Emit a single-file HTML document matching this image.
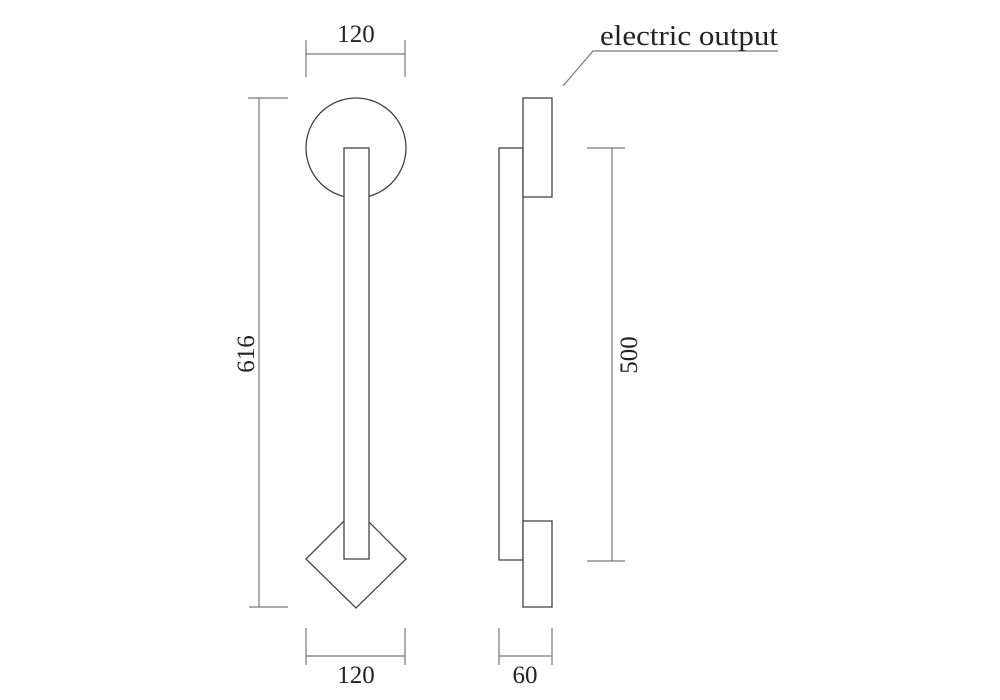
<!DOCTYPE html>
<html><head><meta charset="utf-8"><style>
html,body{margin:0;padding:0;background:#fff;}
svg{display:block;}
text{font-family:"Liberation Serif",serif;fill:#222;}
</style></head><body>
<svg width="1000" height="700" viewBox="0 0 1000 700" xmlns="http://www.w3.org/2000/svg">
<g fill="none" stroke="#777" stroke-width="1.2">
  <line x1="306" y1="40" x2="306" y2="77"/>
  <line x1="405" y1="40" x2="405" y2="77"/>
  <line x1="306" y1="54" x2="405" y2="54"/>
  <line x1="259" y1="98" x2="259" y2="607"/>
  <line x1="248" y1="98" x2="288" y2="98"/>
  <line x1="249" y1="607" x2="288" y2="607"/>
  <line x1="612" y1="148" x2="612" y2="561"/>
  <line x1="587" y1="148" x2="625" y2="148"/>
  <line x1="587" y1="561" x2="625" y2="561"/>
  <line x1="306" y1="628" x2="306" y2="665"/>
  <line x1="405" y1="628" x2="405" y2="665"/>
  <line x1="306" y1="656" x2="405" y2="656"/>
  <line x1="499" y1="628" x2="499" y2="665"/>
  <line x1="552" y1="628" x2="552" y2="665"/>
  <line x1="499" y1="656" x2="552" y2="656"/>
  <polyline points="563,86 593,51 778,51"/>
</g>
<g fill="#fff" stroke="#444" stroke-width="1.3">
  <circle cx="356" cy="148" r="50"/>
  <polygon points="356,509 406,559 356,608 306,559"/>
  <rect x="344" y="148" width="25" height="411"/>
  <rect x="499" y="148" width="24" height="412"/>
  <rect x="523" y="98" width="29" height="99"/>
  <rect x="523" y="521" width="29" height="86"/>
</g>
<g font-size="25" text-anchor="middle">
  <text x="356" y="42">120</text>
  <text x="356" y="683">120</text>
  <text x="525" y="683">60</text>
  <text transform="translate(254,354) rotate(-90)">616</text>
  <text transform="translate(637,355) rotate(-90)">500</text>
</g>
<text x="600" y="45" font-size="28" textLength="178" lengthAdjust="spacingAndGlyphs">electric output</text>
</svg>
</body></html>
